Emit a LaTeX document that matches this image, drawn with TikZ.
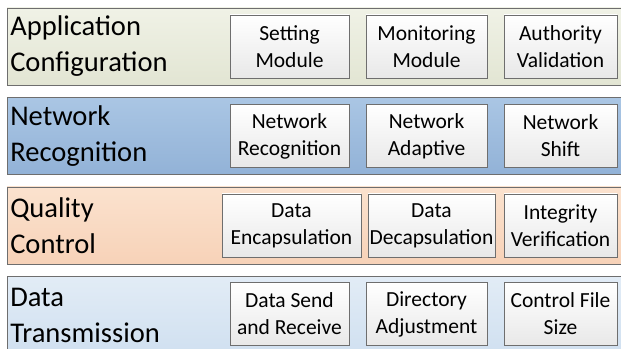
\documentclass[tikz,border=0pt]{standalone}
\usepackage{fontspec}
\setmainfont{Carlito}
\usepackage{tikz}
\usetikzlibrary{positioning}

\definecolor{apptop}{RGB}{240,242,230}
\definecolor{appbot}{RGB}{226,229,211}
\definecolor{nettop}{RGB}{170,198,228}
\definecolor{netbot}{RGB}{146,178,215}
\definecolor{qualtop}{RGB}{251,226,206}
\definecolor{qualbot}{RGB}{247,210,184}
\definecolor{datatop}{RGB}{226,236,246}
\definecolor{databot}{RGB}{208,224,240}
\definecolor{edgegray}{RGB}{110,110,110}

\begin{document}
\begin{tikzpicture}[
    layer/.style={draw=edgegray, line width=0.6pt, rectangle, minimum width=15.4cm, minimum height=1.925cm, inner sep=0pt},
    title/.style={anchor=west, inner sep=0pt, align=left, font=\fontsize{20.3}{25.6}\selectfont},
    module/.style={draw=edgegray, line width=0.5pt, rectangle, top color=white, bottom color=black!9,
        minimum width=2.975cm, minimum height=1.575cm, inner sep=0pt, align=center, font=\fontsize{15.3}{19.2}\selectfont}
]
\useasboundingbox (0,0) rectangle (15.525,-8.725);

% --- Capas de fondo ---
\node[layer, top color=apptop, bottom color=appbot] (appband) at (7.875,-1.1625) {};
\node[layer, top color=nettop, bottom color=netbot] (netband) at (7.875,-3.4) {};
\node[layer, top color=qualtop, bottom color=qualbot] (qualband) at (7.875,-5.6375) {};
\node[layer, top color=datatop, bottom color=databot] (databand) at (7.875,-7.875) {};

% --- Nombres de las capas ---
\node[title] (apptitle) at (0.25,-1.1625) {Application\\Configuration};
\node[title] (nettitle) at (0.25,-3.4) {Network\\Recognition};
\node[title] (qualtitle) at (0.25,-5.6375) {Quality\\Control};
\node[title] (datatitle) at (0.25,-7.875) {Data\\Transmission};

% --- Capa de configuracion ---
\node[module] (setting) at (7.2375,-1.1625) {Setting\\Module};
\node[module, minimum width=3.025cm] (monitor) at (10.6625,-1.1625) {Monitoring\\Module};
\node[module, minimum width=2.825cm] (authority) at (14.0125,-1.1625) {Authority\\Validation};

% --- Capa de red ---
\node[module] (netrec) at (7.2375,-3.4) {Network\\Recognition};
\node[module, minimum width=3.025cm] (netadapt) at (10.6625,-3.4) {Network\\Adaptive};
\node[module, minimum width=2.825cm] (netshift) at (14.0125,-3.4) {Network\\Shift};

% --- Capa de calidad ---
\node[module, minimum width=3.475cm] (encap) at (7.2875,-5.6375) {Data\\Encapsulation};
\node[module, minimum width=3.175cm] (decap) at (10.7875,-5.6375) {Data\\Decapsulation};
\node[module, minimum width=2.825cm] (integrity) at (14.0125,-5.6375) {Integrity\\Verification};

% --- Capa de transmision ---
\node[module] (sendrecv) at (7.2375,-7.85) {Data Send\\and Receive};
\node[module, minimum width=3.025cm] (directory) at (10.6625,-7.85) {Directory\\Adjustment};
\node[module, minimum width=2.825cm] (filesize) at (14.0125,-7.85) {Control File\\Size};

\end{tikzpicture}
\end{document}
